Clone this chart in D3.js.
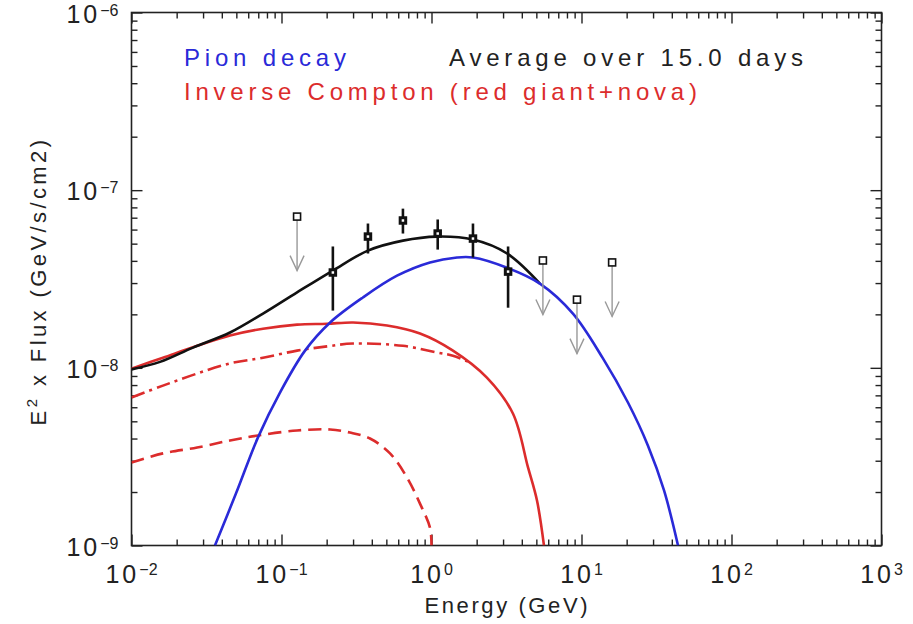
<!DOCTYPE html>
<html>
<head>
<meta charset="utf-8">
<script src="https://cdn.jsdelivr.net/npm/d3@7"></script>
<style>
  body { margin: 0; background: #fff; }
  text { font-family: "Liberation Sans", Arial, sans-serif; }
</style>
</head>
<body>
<div id="chart"></div>
<script>
// model curves: energy (GeV) and E^2 x flux (GeV/s/cm2)
// total is only drawn where it differs from the pion curve
const totalE    = [0.01, 0.0155, 0.0257, 0.0454, 0.0753, 0.127, 0.220, 0.377, 0.645, 1.09, 1.89, 3.19, 5.28];
const totalF    = [9.8e-9, 1.08e-8, 1.30e-8, 1.58e-8, 2.02e-8, 2.66e-8, 3.53e-8, 4.57e-8, 5.20e-8, 5.48e-8, 5.27e-8, 4.40e-8, 2.98e-8];

const pionE     = [0.036, 0.0497, 0.0697, 0.0977, 0.1435, 0.211, 0.349, 0.589, 0.977, 1.48, 1.89, 3.19, 5.28, 8.77, 13.9, 20.4, 27.7, 35.5, 44];
const pionF     = [1e-9, 1.96e-9, 4.06e-9, 7.26e-9, 1.25e-8, 1.80e-8, 2.49e-8, 3.30e-8, 3.92e-8, 4.18e-8, 4.18e-8, 3.66e-8, 2.98e-8, 2.02e-8, 1.13e-8, 6.38e-9, 3.66e-9, 2.04e-9, 1e-9];

const icE       = [0.01, 0.0162, 0.0274, 0.0454, 0.0753, 0.127, 0.201, 0.300, 0.505, 0.838, 1.39, 2.34, 3.49, 4.40, 5.05, 5.62];
const icF       = [9.9e-9, 1.14e-8, 1.33e-8, 1.52e-8, 1.66e-8, 1.75e-8, 1.77e-8, 1.80e-8, 1.73e-8, 1.56e-8, 1.25e-8, 8.81e-9, 5.53e-9, 2.75e-9, 1.79e-9, 1e-9];

const icNovaE   = [0.01, 0.0162, 0.0274, 0.0454, 0.0753, 0.127, 0.201, 0.300, 0.645, 1.09, 1.39, 1.81];
const icNovaF   = [6.81e-9, 7.94e-9, 9.29e-9, 1.06e-8, 1.14e-8, 1.25e-8, 1.32e-8, 1.37e-8, 1.33e-8, 1.22e-8, 1.17e-8, 1.07e-8];

const icGiantE  = [0.01, 0.0162, 0.0274, 0.0454, 0.0697, 0.127, 0.211, 0.286, 0.389, 0.529, 0.687, 0.838, 0.977, 1.0];
const icGiantF  = [2.93e-9, 3.30e-9, 3.56e-9, 3.90e-9, 4.16e-9, 4.44e-9, 4.50e-9, 4.32e-9, 4.00e-9, 3.30e-9, 2.41e-9, 1.72e-9, 1.26e-9, 1e-9];

// LAT data points with error bars
const ptE   = [0.220, 0.377, 0.645, 1.10, 1.89, 3.24];
const ptF   = [3.44e-8, 5.48e-8, 6.75e-8, 5.70e-8, 5.34e-8, 3.48e-8];
const ptLo  = [2.10e-8, 4.40e-8, 5.70e-8, 4.63e-8, 4.18e-8, 2.18e-8];
const ptHi  = [4.82e-8, 6.49e-8, 7.87e-8, 6.84e-8, 6.49e-8, 4.82e-8];

// upper limits
const ulE = [0.127, 5.53, 9.33, 16.0];
const ulF = [7.10e-8, 4.02e-8, 2.42e-8, 3.92e-8];

const xExp = [-2, -1, 0, 1, 2, 3];
const yExp = [-9, -8, -7, -6];

const W = 913, H = 624;
const pLeft = 131.5, pRight = 881.5, pTop = 12.5, pBottom = 545.5;

const svg = d3.select("#chart").append("svg")
  .attr("width", W).attr("height", H);

const x = d3.scaleLog().domain([1e-2, 1e3]).range([pLeft, pRight]);
const y = d3.scaleLog().domain([1e-9, 1e-6]).range([pBottom, pTop]);

const blue = "#2a2ad8", red = "#dc2c2c";

// minor / major tick values
const xMajor = xExp.map(e => Math.pow(10, e));
const xMinor = [];
xExp.slice(0, -1).forEach(e => { for (let m = 2; m <= 9; m++) xMinor.push(m * Math.pow(10, e)); });
const yMajor = yExp.map(e => Math.pow(10, e));
const yMinor = [];
yExp.slice(0, -1).forEach(e => { for (let m = 2; m <= 9; m++) yMinor.push(m * Math.pow(10, e)); });

function drawTicks(axisFn, scale, vals, size, transform) {
  const g = svg.append("g")
    .attr("transform", transform)
    .call(axisFn(scale).tickValues(vals).tickSize(-size).tickFormat(""));
  g.select(".domain").remove();
  g.selectAll(".tick line").attr("stroke", "#222").attr("stroke-width", 1.4);
}
drawTicks(d3.axisBottom, x, xMajor, 11, `translate(0,${pBottom})`);
drawTicks(d3.axisBottom, x, xMinor, 6, `translate(0,${pBottom})`);
drawTicks(d3.axisTop, x, xMajor, 11, `translate(0,${pTop})`);
drawTicks(d3.axisTop, x, xMinor, 6, `translate(0,${pTop})`);
drawTicks(d3.axisLeft, y, yMajor, 11, `translate(${pLeft},0)`);
drawTicks(d3.axisLeft, y, yMinor, 6, `translate(${pLeft},0)`);
drawTicks(d3.axisRight, y, yMajor, 11, `translate(${pRight},0)`);
drawTicks(d3.axisRight, y, yMinor, 6, `translate(${pRight},0)`);

// frame
svg.append("rect")
  .attr("x", pLeft).attr("y", pTop)
  .attr("width", pRight - pLeft).attr("height", pBottom - pTop)
  .attr("fill", "none").attr("stroke", "#222").attr("stroke-width", 1.6);

// tick labels
xExp.forEach(e => {
  const t = svg.append("text")
    .attr("x", x(Math.pow(10, e))).attr("y", pBottom + 37)
    .attr("text-anchor", "middle")
    .attr("font-size", 25).attr("fill", "#222");
  t.append("tspan").text("10").attr("letter-spacing", 3);
  t.append("tspan").text(e < 0 ? "\u2212" + (-e) : e).attr("font-size", 16).attr("dy", -8);
});
yExp.forEach(e => {
  const t = svg.append("text")
    .attr("x", pLeft - 13).attr("y", y(Math.pow(10, e)) + 10)
    .attr("text-anchor", "end")
    .attr("font-size", 25).attr("fill", "#222");
  t.append("tspan").text("10").attr("letter-spacing", 3);
  t.append("tspan").text("\u2212" + (-e)).attr("font-size", 16).attr("dy", -7);
});

// axis titles
svg.append("text")
  .attr("x", 506).attr("y", 613)
  .attr("text-anchor", "middle").attr("font-size", 22).attr("fill", "#222")
  .attr("textLength", 163).attr("lengthAdjust", "spacing")
  .text("Energy (GeV)");

const yt = svg.append("text")
  .attr("transform", "translate(46,281) rotate(-90)")
  .attr("text-anchor", "middle").attr("font-size", 22).attr("fill", "#222")
  .attr("letter-spacing", 3.4);
yt.append("tspan").text("E");
yt.append("tspan").text("2").attr("font-size", 15).attr("dy", -9);
yt.append("tspan").text(" x Flux (GeV/s/cm2)").attr("dy", 9);

// legend texts
svg.append("text").attr("x", 184).attr("y", 66).attr("font-size", 24).attr("fill", blue)
  .attr("textLength", 162).attr("lengthAdjust", "spacing").text("Pion decay");
svg.append("text").attr("x", 449).attr("y", 66).attr("font-size", 24).attr("fill", "#222")
  .attr("textLength", 354).attr("lengthAdjust", "spacing").text("Average over 15.0 days");
svg.append("text").attr("x", 184).attr("y", 100).attr("font-size", 24).attr("fill", red)
  .attr("textLength", 513).attr("lengthAdjust", "spacing").text("Inverse Compton (red giant+nova)");

// curves
svg.append("clipPath").attr("id", "clip").append("rect")
  .attr("x", pLeft).attr("y", pTop).attr("width", pRight - pLeft).attr("height", pBottom - pTop);
const plot = svg.append("g").attr("clip-path", "url(#clip)");

const line = d3.line().x(d => x(d[0])).y(d => y(d[1])).curve(d3.curveCatmullRom.alpha(0.5));
function curve(es, fs, color, dash) {
  plot.append("path")
    .datum(es.map((e, i) => [e, fs[i]]))
    .attr("d", line)
    .attr("fill", "none").attr("stroke", color).attr("stroke-width", 2.6)
    .attr("stroke-dasharray", dash || null);
}
curve(icGiantE, icGiantF, red, "13,7");
curve(icNovaE, icNovaF, red, "14,5,3,5");
curve(icE, icF, red);
curve(totalE, totalF, "#111");
curve(pionE, pionF, blue);

// upper limit arrows
const arrowLen = 54;
ulE.forEach((e, i) => {
  const cx = x(e), cy = y(ulF[i]);
  const g = svg.append("g").attr("stroke", "#999").attr("stroke-width", 1.4).attr("fill", "none");
  g.append("line").attr("x1", cx).attr("x2", cx).attr("y1", cy).attr("y2", cy + arrowLen);
  g.append("path").attr("d", `M${cx - 7},${cy + arrowLen - 15}L${cx},${cy + arrowLen}L${cx + 7},${cy + arrowLen - 15}`);
  svg.append("rect").attr("x", cx - 3.5).attr("y", cy - 3.5).attr("width", 7).attr("height", 7)
    .attr("fill", "#fff").attr("stroke", "#111").attr("stroke-width", 1.6);
});

// data points with error bars
ptE.forEach((e, i) => {
  const cx = x(e);
  svg.append("line").attr("x1", cx).attr("x2", cx)
    .attr("y1", y(ptLo[i])).attr("y2", y(ptHi[i]))
    .attr("stroke", "#111").attr("stroke-width", 2.6);
  svg.append("rect").attr("x", cx - 2.75).attr("y", y(ptF[i]) - 2.75).attr("width", 5.5).attr("height", 5.5)
    .attr("fill", "#fff").attr("stroke", "#111").attr("stroke-width", 3);
});
</script>
</body>
</html>
